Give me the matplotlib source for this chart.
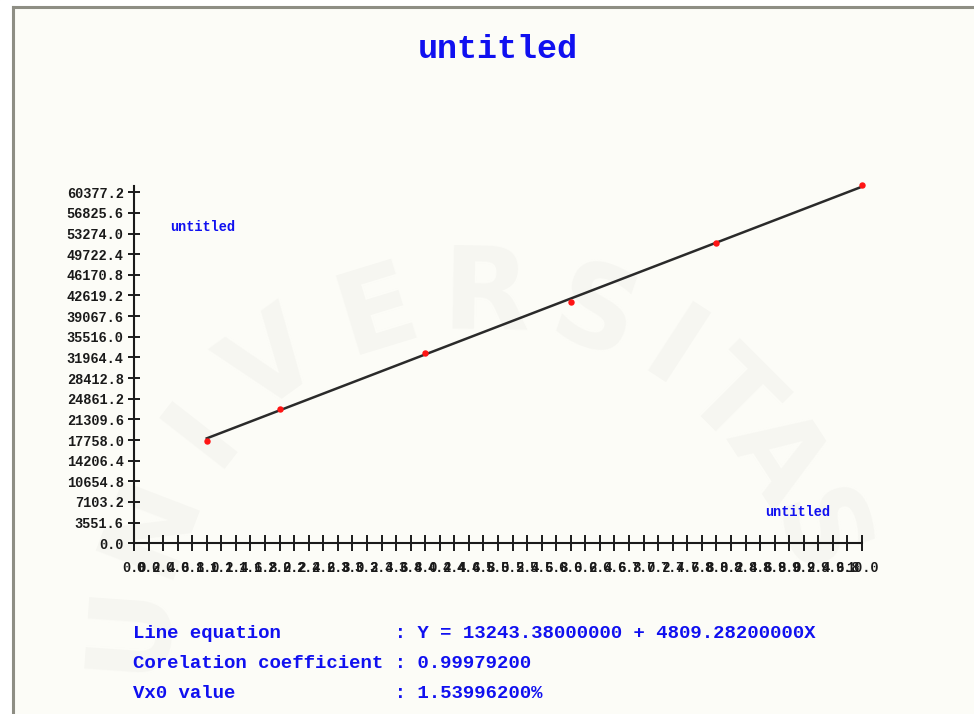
import numpy as np
import matplotlib
matplotlib.use("Agg")
import matplotlib.pyplot as plt
from matplotlib.lines import Line2D
from matplotlib.patches import Rectangle

# measured points (concentration vs response)
x_vals = [1, 2, 4, 6, 8, 10]
y_vals = [17600, 23150, 32680, 41450, 51700, 61600]

# regression results printed under the chart
intercept = 13243.38
slope = 4809.282
corr_coef = 0.999792
vx0 = 1.539962

y_step = 3551.6
y_ticks = [k * y_step for k in range(18)]
x_ticks = [k * 0.2 for k in range(51)]

W, H = 974, 714
BLUE = "#1010f0"
MONO = ["Liberation Mono", "DejaVu Sans Mono"]

fig = plt.figure(figsize=(W / 100, H / 100), dpi=100)
fig.patch.set_facecolor("#fcfcf7")


def px(x, y):
    return x / W, 1 - y / H


# window frame: white margin + grey edge on the left and top
fig.add_artist(Rectangle((0, 0), 11 / W, 1, transform=fig.transFigure,
                         color="white", zorder=-2))
fig.add_artist(Rectangle((0, 1 - 5 / H), 1, 5 / H, transform=fig.transFigure,
                         color="white", zorder=-2))
fig.add_artist(Line2D([12.5 / W, 12.5 / W], [0, 1 - 6.5 / H],
                      transform=fig.transFigure, color="#8e8e84", lw=2.2))
fig.add_artist(Line2D([12.5 / W, 1], [1 - 6.5 / H, 1 - 6.5 / H],
                      transform=fig.transFigure, color="#8e8e84", lw=2.2))

# faint watermark lettering on an arc, kept behind everything else
cx, cy, rad = 480, 650, 352
for ch, ang in zip("UNIVERSITAS", [-86, -69, -52, -36, -17, 1, 19, 33, 45, 57, 71]):
    t = np.radians(ang)
    lx, ly = cx + rad * np.sin(t), cy - rad * np.cos(t)
    fig.text(*px(lx, ly), ch, fontsize=82, fontweight="bold", family="DejaVu Sans",
             color="#f6f6f1", rotation=-ang, ha="center", va="center", zorder=-1)

ax = fig.add_axes([134 / W, (H - 543.3) / H, 728 / W, 357 / H])
ax.set_zorder(2)
ax.set_facecolor("none")
ax.set_xlim(0, 10)
ax.set_ylim(0, 61400)

for s in ["top", "right"]:
    ax.spines[s].set_visible(False)
for s in ["left", "bottom"]:
    ax.spines[s].set_color("#1a1a1a")
    ax.spines[s].set_linewidth(1.5)

ax.set_yticks(y_ticks)
ax.set_yticklabels([f"{v:.1f}" for v in y_ticks])
ax.set_xticks(x_ticks)
ax.set_xticklabels([f"{v:.1f}" for v in x_ticks])
ax.tick_params(axis="y", direction="inout", length=9, width=1.4, pad=3,
               colors="#1a1a1a")
ax.tick_params(axis="x", direction="inout", length=11, width=1.4, pad=7,
               colors="#1a1a1a")
for lab in ax.get_xticklabels() + ax.get_yticklabels():
    lab.set_family(MONO)
    lab.set_fontweight("bold")
    lab.set_fontsize(9.8)

# fitted line across the measured range
x_fit = np.array([x_vals[0], x_vals[-1]])
ax.plot(x_fit, intercept + slope * x_fit, color="#2a2a2a", lw=1.8, zorder=2)
ax.plot(x_vals, y_vals, "o", color="#ff1414", ms=3.6, zorder=3, clip_on=False)

fig.text(*px(498, 50), "untitled", family=MONO, fontweight="bold", fontsize=24,
         color=BLUE, ha="center", va="center", zorder=3)
fig.text(*px(203, 227), "untitled", family=MONO, fontweight="bold", fontsize=9.8,
         color=BLUE, ha="center", va="center", zorder=3)
fig.text(*px(798, 512), "untitled", family=MONO, fontweight="bold", fontsize=9.8,
         color=BLUE, ha="center", va="center", zorder=3)

stats = [
    ("Line equation", f"Y = {intercept:.8f} + {slope:.8f}X"),
    ("Corelation coefficient", f"{corr_coef:.8f}"),
    ("Vx0 value", f"{vx0:.8f}%"),
]
for i, (name, val) in enumerate(stats):
    fig.text(*px(133, 634 + 30 * i), f"{name:<23}: {val}", family=MONO,
             fontweight="bold", fontsize=13.7, color=BLUE, ha="left", va="center",
             zorder=3)

fig.savefig("out.png", dpi=100, facecolor=fig.get_facecolor())
